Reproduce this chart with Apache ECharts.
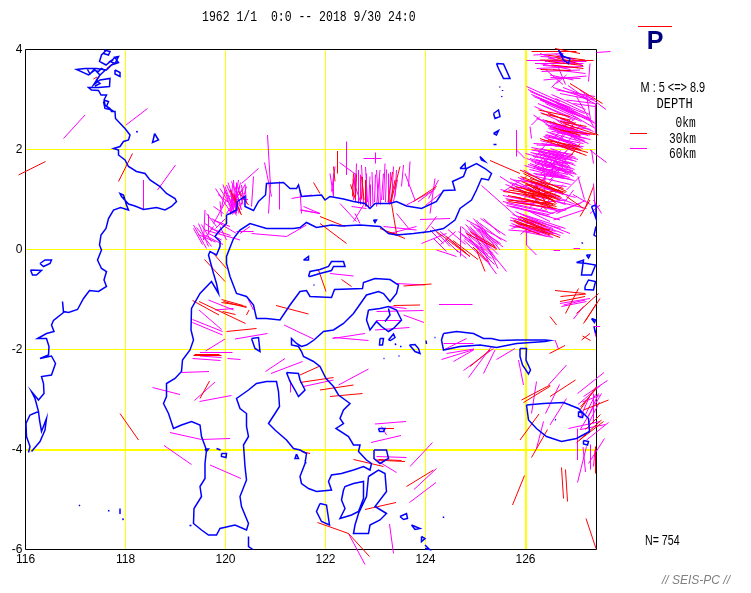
<!DOCTYPE html>
<html><head><meta charset="utf-8">
<style>html,body{margin:0;padding:0;background:#fff}#c{width:751px;height:593px}</style>
<script src="https://cdn.jsdelivr.net/npm/echarts@6/dist/echarts.min.js"></script>
</head><body><div id="c"></div>
<script>
const titleText = "1962 1/1  0:0 -- 2018 9/30 24:0";
const magnitudeText = "M : 5 <=> 8.9";
const depthLabels = ["0km", "30km", "60km"];
const countText = "N= 754";
const footerText = "// SEIS-PC //";
const xRange = [116, 127.42];
const yRange = [-6, 4];
const referenceLines = [[126.01, 4, 126.01, -6], [116, -4.01, 127.42, -4.01]];
const frameLines = [[116, 4, 127.42, 4], [127.42, 4, 127.42, -6], [127.42, -6, 116, -6], [116, -6, 116, 4]];

const borneoCoast = [117.62,3.99,117.52,3.89,117.48,3.76,117.61,3.69,117.79,3.84,117.86,3.74,117.72,3.69,117.62,3.59,117.42,3.62,117.19,3.62,117.02,3.60,117.26,3.49,117.39,3.59,117.49,3.49,117.36,3.29,117.49,3.39,117.69,3.42,117.68,3.26,117.46,3.24,117.26,3.24,117.32,3.19,117.46,3.18,117.51,3.09,117.62,3.09,117.57,2.99,117.59,2.89,117.69,2.82,117.72,2.76,117.79,2.76,117.80,2.62,117.99,2.42,118.09,2.29,118.06,2.19,117.96,2.16,117.89,2.06,117.76,2.02,117.86,1.99,117.86,1.89,117.99,1.79,118.06,1.66,118.22,1.56,118.39,1.52,118.49,1.39,118.69,1.26,118.82,1.12,118.99,1.02,119.02,0.96,118.92,0.86,118.79,0.79,118.62,0.84,118.36,0.80,118.19,0.87,118.06,0.91,117.92,1.06,117.89,1.12,117.96,1.09,118.02,0.89,118.06,0.79,117.90,0.84,117.76,0.79,117.66,0.62,117.61,0.42,117.51,0.29,117.48,0.09,117.52,-0.01,117.44,-0.21,117.52,-0.38,117.62,-0.44,117.57,-0.61,117.62,-0.74,117.46,-0.84,117.28,-0.82,117.16,-0.98,117.04,-1.20,116.86,-1.26,116.76,-1.24,116.74,-1.04,116.76,-1.26,116.56,-1.42,116.52,-1.51,116.57,-1.64,116.42,-1.68,116.24,-1.78,116.42,-1.78,116.47,-1.94,116.46,-2.11,116.29,-2.18,116.52,-2.13,116.60,-2.28,116.52,-2.51,116.32,-2.54,116.36,-2.68,116.37,-2.88,116.26,-3.01,116.12,-2.84,116.19,-2.98,116.26,-3.24,116.09,-3.31,116.01,-3.48,116.02,-3.74,116.09,-3.94,116.06,-4.06];
const laut = [116.26,-3.24,116.28,-3.41,116.32,-3.64,116.42,-3.38,116.39,-3.61,116.29,-3.84,116.12,-4.04];
const sulawesiCoast = [120.02,0.69,120.09,0.72,120.22,0.79,120.24,0.96,120.39,1.06,120.39,0.86,120.56,0.78,120.66,0.96,120.80,1.09,120.82,1.32,121.16,1.34,121.29,1.22,121.42,1.22,121.46,1.29,121.52,1.06,121.92,1.09,121.99,0.99,122.09,1.06,122.36,1.01,122.56,0.96,122.79,0.92,122.89,0.82,122.99,0.92,123.29,0.92,123.42,0.96,123.62,0.87,123.92,0.82,124.22,0.96,124.36,1.18,124.59,1.19,124.54,1.36,124.76,1.46,124.82,1.62,125.02,1.72,125.19,1.62,125.32,1.52,125.26,1.39,125.12,1.42,125.02,1.19,124.92,0.99,124.69,0.82,124.59,0.59,124.36,0.42,124.09,0.36,123.76,0.32,123.42,0.29,123.26,0.32,123.09,0.46,122.69,0.49,122.32,0.47,122.12,0.49,121.82,0.44,121.62,0.54,121.49,0.44,121.36,0.42,120.82,0.42,120.49,0.52,120.29,0.39,120.16,0.22,120.02,-0.14,120.02,-0.28,120.09,-0.54,120.22,-0.88,120.42,-0.94,120.56,-1.11,120.62,-1.38,120.82,-1.38,121.09,-1.41,121.29,-1.11,121.49,-0.84,121.62,-0.82,121.69,-0.94,122.12,-0.96,122.18,-0.80,122.74,-0.78,122.76,-0.66,122.99,-0.58,123.29,-0.60,123.46,-0.71,123.42,-0.88,123.29,-1.04,123.16,-0.88,123.06,-0.84,122.82,-0.91,122.56,-1.28,122.36,-1.48,122.16,-1.61,121.96,-1.64,121.77,-1.81,121.62,-1.91,121.52,-1.94,121.42,-1.88,121.32,-1.78,121.32,-1.91,121.46,-1.94,121.52,-2.04,121.56,-2.14,121.76,-2.24,121.89,-2.34,122.01,-2.58,122.16,-2.74,122.26,-2.91,122.49,-3.08,122.36,-3.21,122.29,-3.38,122.36,-3.48,122.21,-3.58,122.46,-3.74,122.56,-3.91,122.69,-3.91,122.66,-4.04,122.82,-4.21,122.92,-4.28,122.89,-4.41,122.76,-4.34,122.56,-4.41,122.32,-4.48,122.12,-4.51,122.06,-4.64,122.12,-4.81,121.82,-4.84,121.66,-4.78,121.52,-4.68,121.49,-4.54,121.59,-4.28,121.62,-4.08,121.49,-4.01,121.36,-3.98,121.22,-3.81,120.99,-3.61,120.86,-3.48,120.99,-3.28,121.08,-3.14,121.06,-2.84,121.02,-2.64,120.82,-2.64,120.62,-2.68,120.46,-2.81,120.22,-2.98,120.29,-3.18,120.42,-3.28,120.42,-3.54,120.46,-3.74,120.36,-3.91,120.39,-4.34,120.42,-4.61,120.29,-4.94,120.32,-5.14,120.46,-5.48,120.42,-5.61,120.19,-5.51,119.89,-5.58,119.82,-5.71,119.66,-5.71,119.52,-5.61,119.36,-5.48,119.37,-5.18,119.52,-4.94,119.49,-4.74,119.59,-4.58,119.59,-4.28,119.62,-4.01,119.52,-3.74,119.49,-3.51,119.32,-3.44,119.12,-3.51,118.96,-3.58,118.86,-3.28,118.76,-3.08,118.82,-2.94,118.82,-2.68,118.99,-2.58,119.12,-2.44,119.14,-2.21,119.29,-2.01,119.36,-1.81,119.31,-1.61,119.32,-1.18,119.49,-0.88,119.72,-0.64,119.86,-0.88,119.82,-0.68,119.76,-0.48,119.66,-0.11,119.69,-0.04,119.82,-0.11,119.89,0.06,119.89,0.16,119.79,0.26,119.89,0.39,120.02,0.52,120.02,0.69];
const openCoast = [[120.46,-5.74,120.46,-5.94,120.55,-6.0],[123.99,-5.91,124.08,-6.0,123.99,-5.98],[127.41,0.46,127.37,0.29,127.41,0.26],[127.37,-1.54,127.40,-1.68],[123.26,-1.18,123.29,-1.31,123.19,-1.44],[121.59,-4.21,121.61,-4.28],
[117.24,3.60,117.29,3.51,117.36,3.59,117.46,3.56,117.52,3.62,117.59,3.58,117.49,3.49,117.42,3.39,117.49,3.32,117.39,3.27],[117.76,3.84,117.86,3.86,117.79,3.72,117.69,3.76,117.76,3.80],[117.57,3.99,117.69,3.96,117.66,3.89,117.56,3.92],[117.56,2.99,117.66,2.96,117.62,2.86,117.72,2.79,117.59,2.82,117.56,2.96]];
const islandRings = [
[117.79,3.59,117.89,3.54,117.89,3.46,117.79,3.51],[118.58,2.32,118.66,2.19,118.54,2.14,118.57,2.26],[118.22,2.37,118.24,2.34],
[116.29,-0.28,116.39,-0.21,116.52,-0.21,116.49,-0.28,116.36,-0.34],[116.10,-0.41,116.32,-0.42,116.22,-0.51,116.14,-0.51],
[117.07,-5.11,117.09,-5.13],[117.66,-5.21,117.67,-5.24],[117.89,-5.18,117.89,-5.29],[117.94,-5.38,117.96,-5.41],[119.28,-5.52,119.32,-5.52],
[120.52,-1.78,120.66,-1.76,120.69,-2.04,120.59,-1.98],[119.82,-3.98,119.90,-4.01,119.86,-4.04],[119.92,-4.08,120.02,-4.08,120.01,-4.16,119.92,-4.14],[119.59,-3.99,119.66,-3.99,119.62,-4.04],
[121.56,-0.21,121.66,-0.14,121.66,-0.21],[121.66,-0.54,121.69,-0.44,121.89,-0.40,122.06,-0.34,122.12,-0.24,122.36,-0.24,122.39,-0.34,122.16,-0.34,122.12,-0.42,121.89,-0.48,121.69,-0.54],
[122.86,-1.21,123.09,-1.18,123.26,-1.14,123.42,-1.21,123.52,-1.41,123.36,-1.58,123.26,-1.64,123.12,-1.54,123.02,-1.44,122.89,-1.61,122.82,-1.41],
[123.09,-1.78,123.16,-1.78,123.14,-1.91,123.08,-1.91],[123.26,-1.81,123.36,-1.69,123.39,-1.76,123.30,-1.82],[123.68,-1.91,123.79,-1.90,123.86,-1.98,123.89,-2.08,123.79,-2.04],
[123.39,-1.88,123.41,-1.91],[123.49,-1.94,123.52,-1.94],[123.16,-2.18,123.18,-2.18],[123.46,-2.13,123.48,-2.13],[124.01,-1.82,124.02,-1.89],[124.18,-1.76,124.2,-1.76],[124.32,-1.76,124.34,-1.76],[124.36,-5.34,124.36,-5.37],
[124.36,-1.68,124.62,-1.64,124.96,-1.68,125.16,-1.78,125.32,-1.78,125.49,-1.82,125.82,-1.81,126.39,-1.81,126.49,-1.82,126.39,-1.84,125.82,-1.88,125.42,-1.96,125.09,-1.91,124.69,-1.94,124.36,-2.01,124.32,-1.81],
[125.89,-1.98,126.02,-1.98,126.01,-2.21,126.10,-2.41,126.06,-2.49,125.94,-2.31,125.89,-2.14],
[126.02,-3.11,126.36,-3.08,126.76,-3.06,127.06,-3.18,127.26,-3.38,127.28,-3.64,127.02,-3.78,126.72,-3.84,126.42,-3.74,126.22,-3.58,126.06,-3.41],
[126.59,-3.40,126.61,-3.41],[127.06,-3.24,127.16,-3.28,127.14,-3.36,127.06,-3.34],[127.16,-3.82,127.26,-3.84,127.24,-3.91,127.16,-3.89],
[127.02,-0.26,127.16,-0.21,127.12,-0.51,127.32,-0.51,127.40,-0.31,127.22,-0.28],[127.19,-0.74,127.26,-0.61,127.40,-0.64,127.36,-0.81,127.19,-0.80],[127.22,-0.11,127.29,-0.11,127.26,-0.17],[127.32,-1.38,127.40,-1.41,127.38,-1.46],
[122.36,-4.81,122.32,-5.01,122.39,-5.18,122.29,-5.38,122.52,-5.31,122.66,-5.24,122.76,-4.98,122.76,-4.64,122.56,-4.68,122.39,-4.74],
[122.86,-4.54,123.06,-4.41,123.19,-4.48,123.22,-4.84,122.99,-5.14,123.22,-5.28,123.09,-5.41,122.89,-5.51,122.86,-5.68,122.56,-5.68,122.59,-5.51,122.66,-5.28,122.82,-4.94],
[121.89,-5.08,122.02,-5.11,122.08,-5.51,121.92,-5.44,121.82,-5.24],[123.49,-5.34,123.62,-5.28,123.64,-5.38,123.56,-5.40],[123.72,-5.51,123.89,-5.58,123.79,-5.60],[123.92,-5.74,123.99,-5.78,123.92,-5.84],
[122.97,-4.01,123.22,-4.01,123.26,-4.18,123.09,-4.28,122.97,-4.18],[123.06,-3.58,123.19,-3.58,123.16,-3.64,123.08,-3.64],[121.42,-4.09,121.46,-4.18,121.39,-4.18],
[121.22,-2.46,121.46,-2.48,121.49,-2.61,121.59,-2.81,121.46,-2.94,121.39,-2.81,121.29,-2.64],[121.76,-0.71,121.78,-0.71],
[125.42,3.72,125.56,3.71,125.69,3.42,125.56,3.42,125.46,3.62],[125.48,3.26,125.49,3.24],[125.54,3.19,125.54,3.17],[125.52,3.07,125.53,3.05],[125.36,2.72,125.46,2.79,125.49,2.66,125.39,2.62],[125.36,2.32,125.46,2.38,125.42,2.29],[125.36,2.10,125.42,2.10],
[126.66,3.99,126.76,3.86,126.89,3.82,126.86,3.72,126.76,3.79,126.69,3.92],[127.32,0.86,127.41,0.89,127.41,0.62,127.36,0.76],[127.12,0.14,127.15,0.12],
[124.69,1.62,124.79,1.72,124.80,1.62],[125.09,1.86,125.19,1.76,125.12,1.79],[122.96,0.59,123.02,0.59,122.99,0.54]
];

// each row: lon1, lat1, lon2, lat2
const shallowSegments = [
[115.86,1.49,116.40,1.76],[117.86,1.36,118.14,1.92],[117.36,3.41,117.43,3.45],[117.62,3.62,117.75,3.72],
[120.09,1.19,120.32,0.69],[120.16,1.12,120.30,0.72],[120.26,1.16,120.46,0.89],[121.76,1.34,121.89,1.12],
[122.24,1.97,122.24,1.52],[122.16,1.66,122.19,1.36],[122.56,1.52,122.54,1.06],[122.79,1.39,122.79,0.86],[122.72,1.46,122.77,0.99],[123.49,1.66,123.30,0.92],[123.39,1.39,123.29,0.92],[123.32,0.92,123.42,0.32],[123.76,0.96,124.22,1.26],
[121.89,0.66,122.39,0.46],[121.89,0.52,122.42,0.12],[123.09,0.42,123.59,0.22],[123.22,0.36,123.49,0.29],
[124.22,0.36,124.89,-0.14],[124.42,0.26,124.82,-0.08],[124.82,0.32,125.42,0.02],[124.89,0.36,125.39,0.06],[125.02,-0.01,125.19,-0.44],
[125.29,1.78,125.89,1.52],[125.89,1.59,126.82,1.16],[125.96,1.52,126.62,1.19],[125.92,1.36,126.69,1.06],[126.02,1.32,126.62,0.92],[126.09,1.42,126.76,1.22],[125.66,1.19,126.56,1.06],[125.56,1.16,126.29,1.06],[125.76,1.06,126.62,0.86],[125.62,0.99,126.52,0.92],[126.02,1.19,126.56,0.99],[126.16,1.26,126.69,0.99],[125.66,0.96,126.62,0.82],[126.09,1.12,126.42,0.79],[126.02,1.39,126.76,1.12],[125.89,1.16,126.56,0.89],
[126.82,1.06,127.16,0.82],[127.19,0.82,127.36,1.26],[127.09,0.66,127.29,0.99],[125.76,0.59,126.69,0.24],[125.82,0.52,126.49,0.39],[125.89,0.66,126.42,0.46],[125.76,0.56,126.49,0.29],
[126.12,3.96,127.02,3.96],[126.42,3.89,127.19,3.79],[126.29,3.79,127.36,3.78],[126.52,3.69,127.16,3.62],[126.59,4.02,127.09,3.92],
[126.89,3.32,127.54,2.92],[126.26,2.79,126.89,2.66],[126.32,2.72,126.89,2.59],[126.69,2.56,127.22,2.46],[126.76,2.52,127.46,2.29],[126.29,2.22,127.22,1.88],[126.36,2.19,127.09,2.06],[127.09,2.12,126.89,1.86],
[119.58,-0.20,119.99,-0.64],[119.76,-0.08,120.02,-0.38],[119.34,-1.02,119.87,-1.31],[119.47,-1.04,120.40,-1.48],[119.92,-1.06,120.42,-1.14],[119.96,-1.04,120.42,-1.16],[120.42,-1.31,120.47,-1.21],[120.02,-1.64,120.62,-1.58],[119.36,-2.11,119.92,-2.11],[117.89,-3.28,118.26,-3.81],[121.01,-1.12,121.66,-1.29],[121.52,-4.04,121.69,-4.08],[119.49,-2.98,119.68,-2.63],
[121.86,-0.41,122.01,-0.84],[122.32,-0.60,122.52,-0.74],[123.56,-0.73,124.12,-0.69],[123.36,-1.12,123.89,-1.11],[121.49,-2.51,121.89,-2.33],[121.49,-2.66,122.16,-2.56],[121.89,-2.81,122.56,-2.71],[122.09,-2.94,122.74,-2.88],[122.99,-4.21,123.59,-4.24],[123.06,-4.20,123.52,-4.22],[122.56,-4.20,123.16,-4.34],[121.84,-5.46,122.46,-5.68],[122.46,-5.68,122.88,-6.14],[123.62,-4.74,124.16,-4.41],[122.79,-5.20,123.41,-5.06],
[125.92,-3.01,126.49,-2.71],[125.96,-3.06,126.50,-2.73],[126.49,-2.94,127.00,-2.61],[125.89,-3.81,126.27,-3.29],[126.12,-4.16,126.44,-3.60],[126.72,-4.36,126.76,-4.98],[126.80,-4.40,126.84,-5.04],[125.74,-5.11,125.98,-4.52],
[126.59,-0.82,127.19,-0.88],[126.70,-0.94,127.21,-0.89],[126.69,-1.04,127.19,-0.94],[126.49,-1.34,126.62,-1.51],[126.48,-2.08,126.79,-1.92],[126.80,-1.28,127.06,-0.78],[127.16,-1.48,127.42,-1.08],[127.19,-1.44,127.49,-0.98],[127.02,-1.28,127.46,-0.88],[127.14,-1.73,127.30,-1.82],[127.12,-1.81,127.29,-1.68],[127.21,-5.38,127.41,-5.98],
[127.09,-3.21,127.42,-2.74],[127.16,-3.21,127.66,-3.01],[127.02,-3.86,127.56,-3.44],[127.08,-3.81,127.52,-3.41],[127.39,-3.94,127.39,-4.48],[124.89,-2.34,125.29,-2.01],[123.09,-3.58,123.37,-3.58],
[125.70,1.24,126.50,1.00],[125.80,1.26,126.60,1.04],[125.90,1.24,126.65,1.00],[126.00,1.30,126.72,1.04],[125.95,1.10,126.60,0.90],[125.85,1.04,126.55,0.84],[125.90,1.46,126.75,1.14],[126.10,1.36,126.80,1.14],[126.05,1.22,126.50,1.02],[126.15,1.18,126.60,0.96],[125.65,1.08,126.40,0.92],[126.20,1.30,126.45,0.85],[126.12,1.05,126.60,1.18],[125.95,0.60,126.55,0.34],[125.85,0.62,126.40,0.38],[125.80,0.48,126.30,0.30],
[126.45,3.76,127.15,3.68],[126.60,3.84,127.05,3.72],[126.30,3.60,126.90,3.58],[126.40,2.58,127.00,2.40],[126.55,2.44,127.10,2.28],[126.70,2.38,127.40,2.30],[126.45,2.20,127.10,2.00],[126.65,2.10,127.25,1.94],[126.45,2.72,127.00,2.52],
[122.62,1.50,122.60,1.05],[122.74,1.45,122.72,1.00],[123.34,1.55,123.25,0.95],[122.50,1.30,122.60,1.00],[119.92,-1.00,120.35,-1.12],[119.94,-1.24,120.20,-1.30],[119.38,-2.09,119.88,-2.09],[124.95,0.05,125.25,-0.24],[124.55,0.18,125.05,-0.20],[127.10,-3.15,127.40,-2.80],[127.20,-3.60,127.50,-3.30]
];
const deepSegments = [
[116.76,2.22,117.19,2.69],[118.01,2.49,118.44,2.82],[118.64,1.19,119.0,1.69],[118.36,1.39,118.36,0.80],
[120.84,2.29,120.90,1.26],[120.90,1.36,120.86,0.72],[120.78,1.74,120.92,1.06],[121.08,1.36,121.08,0.80],[120.66,1.62,120.32,1.32],[120.56,1.46,120.52,0.86],
[119.89,1.22,120.16,0.79],[119.99,1.26,120.19,0.72],[120.02,1.29,120.26,0.76],[120.09,1.19,120.29,0.86],[120.16,1.39,120.19,0.86],[120.26,1.39,120.16,0.82],[120.29,1.26,120.09,0.72],[120.39,1.29,120.02,0.72],[120.42,1.26,120.26,0.72],[120.06,1.06,120.36,1.12],[119.92,0.82,119.99,1.19],[120.12,1.19,120.16,0.72],[120.19,1.26,120.32,0.79],[120.39,1.32,120.42,0.92],[120.32,1.29,120.36,0.99],
[119.59,0.79,119.56,0.19],[119.76,0.86,119.96,0.72],[119.89,0.96,119.92,0.66],[119.36,0.49,119.62,0.02],[119.46,0.52,119.66,0.06],[119.59,0.52,119.89,0.32],[119.72,0.62,120.22,0.32],[119.76,0.59,120.09,0.46],[119.89,0.46,120.02,0.19],[119.56,0.19,119.76,0.46],[119.59,0.39,120.29,0.19],[119.66,0.32,119.92,0.19],[120.29,0.32,120.49,0.46],[120.22,0.36,120.56,0.36],[120.52,0.32,121.22,0.26],[121.22,0.26,121.62,0.49],[119.62,0.72,119.82,0.46],[120.02,0.99,119.76,0.52],[121.49,1.19,121.52,0.72],[121.32,1.02,121.72,1.09],[121.56,0.86,121.89,0.72],[121.52,0.79,121.89,0.72],
[119.80,1.22,120.10,0.75],[119.95,1.30,120.14,0.70],[120.05,1.34,120.24,0.78],[120.14,1.30,120.10,0.70],[120.22,1.34,120.22,0.72],[120.30,1.34,120.14,0.74],[120.36,1.20,120.06,0.90],[120.10,1.00,120.45,1.00],[120.00,1.16,120.22,0.68],[120.12,1.36,120.30,0.90],[119.85,1.10,120.05,0.95],[120.20,1.10,120.20,0.72],[120.25,1.25,120.35,0.90],
[119.42,0.44,119.72,0.06],[119.52,0.50,119.72,0.16],[119.36,0.42,119.54,0.10],[119.70,0.42,120.10,0.28],[119.80,0.42,120.00,0.62],[119.66,0.70,119.66,0.30],[119.55,0.30,119.95,0.10],[119.45,0.30,119.80,0.15],
[122.41,2.16,122.41,1.49],[122.28,1.74,122.62,1.49],[122.76,1.82,123.12,1.82],[122.99,1.94,122.99,1.72],[122.16,1.52,122.16,1.06],[122.09,1.52,122.16,1.06],[122.19,1.66,122.12,1.16],[122.52,1.22,122.62,1.52],[122.59,1.52,122.56,0.99],[122.66,1.59,122.66,0.92],[122.72,1.69,122.76,0.92],[122.82,1.52,122.82,0.86],[122.89,1.46,122.86,0.82],[123.02,1.59,123.06,0.92],[123.09,1.59,123.02,0.86],[123.16,1.52,123.12,0.99],[123.19,1.72,123.16,0.99],[123.26,1.52,123.26,0.92],[123.36,1.66,123.32,0.92],[123.42,1.59,123.39,1.06],[123.56,1.69,123.52,1.26],[123.69,1.76,123.66,1.26],[123.59,1.52,123.79,0.99],[123.62,0.89,124.12,1.16],[124.06,1.02,124.26,1.39],[124.19,1.42,124.09,0.72],
[122.60,1.42,122.60,0.95],[122.70,1.50,122.70,0.90],[122.93,1.55,122.95,0.90],[123.00,1.50,122.98,0.95],[123.08,1.45,123.10,0.90],[123.22,1.60,123.20,0.95],[123.30,1.55,123.28,0.90],[123.44,1.40,123.36,0.95],[122.80,1.65,122.84,0.95],[122.90,1.30,122.90,0.86],[122.62,1.72,122.60,1.20],[122.55,1.40,122.70,0.95],[123.85,0.95,124.20,1.22],[124.00,0.88,124.30,1.12],
[121.49,0.79,121.89,0.72],[122.29,0.92,122.62,0.56],[122.59,0.72,122.69,0.52],[122.56,0.56,122.82,0.99],[122.52,0.86,122.82,0.82],[123.42,0.72,123.69,0.39],[123.16,0.46,123.82,0.39],[123.29,0.32,123.82,0.46],[123.89,0.60,124.49,0.62],[124.22,0.66,123.96,0.32],
[124.12,0.46,124.49,0.06],[124.29,0.36,124.89,-0.14],[123.92,0.12,124.42,0.32],[124.69,0.46,124.69,-0.14],[124.72,0.46,125.39,-0.14],[124.82,0.59,125.62,0.16],[124.96,0.62,125.42,0.02],[125.02,0.59,125.49,-0.01],[124.79,0.36,125.42,-0.21],[124.89,0.46,125.62,-0.44],[124.82,0.32,125.42,-0.49],[125.09,0.52,125.52,0.19],[125.02,0.39,125.42,-0.01],[125.16,0.62,125.49,0.32],[124.96,0.46,125.36,0.12],[124.92,0.32,125.29,0.09],[124.76,0.19,125.22,-0.24],[124.62,-0.01,124.82,-0.18],[124.22,-0.01,124.62,-0.14],[124.16,0.22,124.42,-0.04],[124.09,0.39,124.36,0.12],
[124.80,0.50,125.30,0.02],[124.90,0.52,125.45,0.10],[125.00,0.50,125.55,0.05],[124.85,0.42,125.35,-0.08],[124.95,0.40,125.45,-0.10],[125.05,0.42,125.50,0.12],[124.72,0.30,125.25,-0.10],[124.78,0.22,125.32,-0.18],[124.88,0.20,125.38,-0.30],[125.10,0.62,125.60,0.28],[124.66,0.36,125.18,-0.02],[125.12,0.30,125.45,-0.38],[125.00,0.28,125.30,-0.32],[124.30,0.10,124.60,0.36],[124.45,0.40,124.80,0.10],[124.40,0.20,124.65,-0.05],
[126.02,3.79,126.89,3.79],[126.16,3.89,126.76,3.92],[126.19,3.72,127.16,3.72],[126.22,3.62,127.16,3.66],[126.32,3.56,127.09,3.59],[126.36,3.39,127.22,3.47],[126.49,3.49,126.96,3.39],[126.62,3.32,126.82,3.49],[127.42,3.94,127.70,3.96],[127.26,3.36,127.29,3.72],[126.52,3.24,126.69,3.42],[126.29,3.92,126.82,3.72],[126.39,3.76,127.22,3.76],
[126.30,3.86,127.00,3.82],[126.35,3.68,127.05,3.64],[126.45,3.83,127.12,3.70],[126.28,3.72,126.90,3.60],[126.55,3.60,127.20,3.52],[126.50,3.44,127.10,3.42],[126.60,3.90,127.02,3.78],[126.40,3.60,126.75,3.30],[126.65,3.66,126.80,3.30],
[126.02,3.26,126.69,2.96],[126.09,3.16,126.82,2.86],[126.16,3.06,127.02,2.72],[126.29,2.99,127.09,2.66],[126.62,3.19,127.39,3.06],[126.69,3.12,127.36,2.99],[126.82,2.99,127.39,2.92],[127.02,3.06,127.36,2.46],[126.96,2.92,127.39,2.86],[127.39,2.92,127.39,2.32],[127.09,3.19,127.61,2.80],[126.12,2.22,126.09,2.46],[126.29,2.66,126.12,2.49],[126.16,2.69,126.56,2.42],
[126.30,3.00,126.95,2.70],[126.40,2.92,127.05,2.62],[126.52,3.10,127.20,2.80],[126.60,3.02,127.28,2.70],[126.20,3.12,126.90,2.84],[126.85,3.28,127.30,2.96],[126.95,3.14,127.42,2.90],[126.72,2.90,127.30,2.60],[126.80,2.80,127.36,2.56],[127.22,3.10,127.30,2.60],
[126.05,3.20,126.85,2.82],[126.12,3.10,126.98,2.74],[126.24,3.04,127.06,2.68],[126.35,2.88,127.12,2.56],[126.25,2.92,126.95,2.60],[126.18,2.86,126.80,2.58],[126.55,3.24,127.25,3.02],[126.75,3.24,127.38,3.00],[126.48,3.00,127.18,2.72],[126.62,2.92,127.28,2.62],[126.88,2.76,127.40,2.52],[126.95,2.68,127.40,2.42],[126.30,2.74,126.98,2.44],[126.22,2.62,126.90,2.38],[126.34,2.60,127.05,2.34],
[126.46,2.56,127.22,2.32],[126.49,2.49,127.16,2.32],[126.46,2.42,127.22,2.22],[126.56,2.56,127.02,2.19],[126.62,2.59,127.09,2.26],[126.36,2.26,127.16,2.12],[126.42,2.36,127.09,2.06],[126.32,2.12,127.09,1.99],[126.22,2.09,127.02,2.06],[126.16,2.12,127.16,2.06],[126.49,2.56,126.96,2.32],[126.56,2.46,127.22,2.42],[126.52,2.36,127.29,2.29],[126.69,2.62,127.36,2.36],[126.39,2.29,126.89,2.12],
[126.40,2.50,127.05,2.30],[126.45,2.46,127.12,2.24],[126.50,2.42,127.18,2.18],[126.55,2.52,127.25,2.28],[126.60,2.48,127.20,2.14],[126.48,2.34,127.10,2.16],[126.42,2.30,127.02,2.10],[126.38,2.24,126.98,2.04],[126.50,2.28,127.14,2.02],[126.58,2.40,127.26,2.12],[126.62,2.34,127.30,2.20],[126.66,2.50,127.32,2.30],[126.52,2.18,127.08,2.00],[126.30,2.18,126.96,2.00],[126.70,2.58,127.30,2.40],[126.75,2.44,127.00,2.62],[126.55,2.20,126.90,2.60],[126.70,2.20,127.00,2.55],[126.85,2.15,127.10,2.50],[126.60,2.05,126.80,2.40],
[126.12,1.99,126.89,1.86],[126.16,1.92,126.96,1.72],[126.09,1.82,126.82,1.59],[126.19,1.72,126.92,1.52],[126.22,1.62,126.92,1.56],[126.29,1.86,126.82,1.52],[126.42,1.99,126.89,1.66],[126.36,1.79,126.96,1.46],[126.09,1.72,126.82,1.46],[126.16,1.52,126.76,1.46],[126.22,1.79,126.86,1.66],[126.26,1.92,126.82,1.79],[126.56,1.99,126.29,1.59],[126.82,1.96,126.42,1.62],[126.36,1.66,126.39,1.36],[127.29,1.99,127.62,1.74],[127.32,1.99,127.36,1.72],[125.82,2.39,125.82,1.86],[125.82,1.99,125.99,1.82],
[126.15,1.86,126.85,1.72],[126.20,1.80,126.92,1.62],[126.10,1.94,126.80,1.80],[126.25,1.96,126.95,1.78],[126.30,1.70,126.95,1.58],[126.15,1.66,126.85,1.50],[126.25,1.60,126.88,1.44],[126.35,1.90,127.00,1.68],[126.40,1.84,126.98,1.60],[126.12,1.76,126.70,1.62],[126.05,1.70,126.60,1.52],[126.50,1.92,127.02,1.76],[126.55,1.78,127.00,1.52],[126.30,1.96,126.75,1.64],[126.20,1.50,126.80,1.42],[126.45,1.94,126.15,1.60],[126.70,1.98,126.30,1.50],[126.62,1.90,126.50,1.45],[126.90,1.90,126.55,1.50],[126.40,1.50,126.98,1.38],[126.34,2.00,126.95,1.90],[126.50,2.02,127.00,1.84],
[126.00,1.92,126.78,1.72],[126.02,1.82,126.72,1.58],[125.98,1.68,126.70,1.46],[126.08,1.60,126.92,1.40],[126.30,2.02,127.05,1.80],[126.18,2.00,126.92,1.82],[126.38,1.72,127.02,1.50],[126.12,2.04,126.72,1.92],[126.58,2.10,127.12,1.92],[126.62,1.72,126.32,1.36],[126.85,1.76,126.48,1.38],[126.42,2.12,126.18,1.82],[126.95,2.10,126.62,1.78],
[125.49,1.46,126.02,1.12],[125.69,1.42,126.16,1.19],[125.12,1.28,125.82,0.66],[125.96,1.59,126.42,1.32],[125.56,1.16,126.02,1.46],[125.76,1.39,126.82,1.26],[125.62,0.92,126.56,0.72],[125.69,0.86,126.49,0.66],[125.76,0.86,126.69,0.59],[126.09,0.92,126.82,0.99],[126.62,0.96,127.22,0.82],[126.56,0.59,127.16,0.79],[127.36,0.99,127.52,0.72],[127.36,1.32,127.39,0.86],[127.29,0.72,127.49,0.89],
[125.60,1.30,126.40,1.00],[125.70,1.34,126.55,1.05],[125.80,1.30,126.70,1.00],[125.85,1.44,126.75,1.10],[125.95,1.40,126.85,1.08],[125.55,1.08,126.50,0.88],[125.60,1.02,126.60,0.80],[125.70,1.00,126.70,0.76],[125.80,0.94,126.80,0.78],[125.55,0.96,126.45,0.76],[125.62,0.88,126.45,0.70],[126.05,1.50,126.90,1.30],[126.10,1.30,127.00,1.04],[126.20,1.22,127.00,0.90],[125.75,1.20,126.40,1.40],[125.90,0.95,126.40,1.45],[126.10,0.85,126.55,1.42],[126.30,0.80,126.75,1.30],[125.70,1.25,126.80,0.90],[125.50,1.20,126.30,0.98],[126.45,0.70,127.10,0.92],[126.62,0.72,127.20,0.98],
[125.69,0.59,126.56,0.32],[125.72,0.52,126.42,0.26],[125.76,0.46,126.42,0.39],[125.82,0.66,126.76,0.32],[125.89,0.72,126.89,0.32],[125.66,0.39,126.62,0.32],[126.02,0.79,126.49,0.56],[126.02,0.46,126.02,0.09],[126.02,0.09,126.22,-0.11],[126.56,-0.01,126.69,-0.01],[126.96,0.02,127.09,0.02],[126.82,1.19,127.09,1.46],[126.96,1.19,126.76,0.92],
[125.74,0.70,126.55,0.42],[125.78,0.62,126.60,0.36],[125.85,0.50,126.52,0.26],[125.90,0.58,126.70,0.28],[125.68,0.48,126.45,0.34],[125.70,0.64,126.35,0.44],[125.95,0.70,126.80,0.42],[126.00,0.62,126.70,0.42],[125.80,0.76,126.30,0.52],[125.95,0.36,126.55,0.24],[125.72,0.42,126.15,0.55],[125.90,0.30,126.25,0.60],[126.95,1.10,127.30,0.90],[127.05,1.46,127.18,1.00],
[119.66,-1.01,120.16,-1.21],[119.79,-1.21,120.16,-1.18],[119.47,-1.21,119.92,-1.60],[119.34,-1.40,119.94,-1.64],[119.34,-1.46,119.94,-1.71],[119.60,-2.03,119.99,-1.79],[120.19,-1.79,120.84,-1.68],[121.17,-1.51,121.76,-1.79],[119.49,-2.06,120.14,-2.06],[119.34,-2.18,119.90,-2.22],[119.49,-2.13,119.92,-2.16],[120.04,-2.18,120.30,-2.20],[119.12,-2.46,119.67,-2.44],[118.54,-2.76,119.09,-2.90],[119.38,-3.02,119.79,-2.65],[119.48,-3.04,120.12,-2.92],[118.89,-3.66,119.52,-3.80],[119.52,-3.80,120.09,-3.78],[118.77,-3.92,119.32,-4.30],[119.69,-4.31,120.31,-4.58],[120.80,-2.44,121.19,-2.18],[120.91,-2.48,121.54,-2.24],[121.30,-2.62,121.30,-2.86],[120.46,-1.01,120.56,-1.21],[121.56,-2.74,122.16,-2.61],
[122.09,-0.48,122.56,-0.53],[123.42,-0.68,123.99,-0.71],[122.14,-1.78,122.79,-1.68],[122.16,-1.76,122.86,-1.82],[123.02,-1.24,123.96,-1.22],[123.02,-1.41,123.52,-1.41],[123.56,-1.31,123.97,-1.46],[122.99,-1.61,123.68,-1.56],[124.27,-1.10,124.94,-1.10],[123.29,-1.14,123.62,-1.18],[122.26,-2.71,122.86,-2.39],[122.99,-3.49,123.61,-3.44],[122.91,-3.86,123.51,-3.72],[123.12,-3.54,123.22,-3.71],[123.69,-4.34,124.14,-3.86],[123.77,-4.80,124.22,-4.38],[123.68,-5.06,124.21,-4.66],[122.96,-4.18,123.42,-4.46],[123.02,-4.14,123.62,-4.16],[123.28,-5.49,123.36,-6.08],[122.46,-5.68,122.79,-6.30],
[124.32,-2.20,124.97,-2.00],[124.42,-2.08,124.97,-1.99],[124.56,-2.24,124.96,-2.01],[124.36,-2.01,124.82,-1.78],[124.36,-1.88,124.96,-1.88],[124.76,-2.42,125.36,-1.98],[124.86,-2.56,125.32,-1.94],[125.16,-2.48,125.39,-2.01],[125.42,-2.20,125.79,-1.98],[125.86,-2.21,125.96,-2.71],
[126.22,-2.64,126.12,-3.28],[126.68,-2.70,126.40,-3.28],[126.82,-2.98,126.49,-3.51],[126.36,-3.44,126.22,-3.98],[126.82,-2.31,126.46,-2.71],[127.04,-2.88,127.57,-2.46],[127.16,-2.94,127.64,-2.62],[126.86,-3.58,127.49,-3.44],[127.09,-3.38,127.28,-2.94],[127.52,-2.88,127.09,-3.61],[127.36,-2.88,127.36,-3.48],[127.46,-2.88,127.26,-3.34],[127.66,-3.46,127.22,-3.81],[127.04,-3.58,127.04,-4.21],[127.22,-3.94,127.04,-4.66],[127.58,-3.78,127.26,-4.28],[127.39,-4.01,127.36,-4.34],
[127.14,-3.05,127.48,-2.92],[127.20,-3.30,127.40,-2.90],[127.25,-3.50,127.48,-3.05],[127.10,-3.60,127.60,-3.50],[127.30,-3.90,127.30,-4.40],[127.15,-3.95,127.20,-4.45],[127.05,-3.10,127.50,-2.72],
[126.59,-1.81,126.66,-1.99],[126.69,-1.08,127.29,-0.98],[126.76,-1.11,127.19,-1.01],[126.72,-1.14,127.22,-1.04],[126.96,-1.39,127.16,-1.14],[127.39,-1.61,127.39,-1.74],[127.36,-1.54,127.49,-1.54]
];

const RED = '#ff0000', MAG = '#ff00ff', BLUE = '#0000ff', YEL = '#ffff00';
const pairs = f => { const o = []; for (let i = 0; i < f.length; i += 2) o.push([f[i], f[i + 1]]); return o; };
const gap = [null, null];
const coastPath = [borneoCoast, laut, sulawesiCoast, ...openCoast].flatMap(p => [...pairs(p), gap])
  .concat(islandRings.flatMap(r => { const p = pairs(r); return [...p, p[0], gap]; }));
const linesSeries = (name, rows, color, width, z) => ({
  name, type: 'lines', coordinateSystem: 'cartesian2d', clip: false, silent: true, z, animation: false, polyline: false, large: false,
  symbol: ['none', 'none'], lineStyle: { color, width, opacity: 1, curveness: 0, cap: 'butt' },
  data: rows.map(r => ({ coords: [[r[0], r[1]], [r[2], r[3]]] }))
});
const MONO = '"Liberation Mono","DejaVu Sans Mono",monospace';
const SANS = '"Liberation Sans",sans-serif';
const txt = (text, x, y, opt = {}) => ({
  type: 'text', x, y, scaleX: opt.sx ?? 0.82, silent: true,
  style: { text, fill: opt.fill || '#000', font: opt.font || `14px ${MONO}`, textAlign: opt.align || 'left', textVerticalAlign: 'middle' }
});
const seg = (x1, y1, x2, y2, c) => ({ type: 'line', silent: true, shape: { x1, y1, x2, y2 }, style: { stroke: c, lineWidth: 1 } });
const tickFont = { color: '#000', fontFamily: SANS, fontSize: 12 };

const chart = echarts.init(document.getElementById('c'), null, { renderer: 'canvas' });
chart.setOption({
  animation: false,
  backgroundColor: '#fff',
  grid: { left: 25.5, top: 49.5, width: 571, height: 500, show: false },
  xAxis: { type: 'value', min: xRange[0], max: xRange[1], interval: 2,
    axisLine: { show: false }, axisTick: { show: false },
    splitLine: { show: true, lineStyle: { color: YEL, width: 1 } },
    axisLabel: { ...tickFont, margin: 4, formatter: v => (v === xRange[1] ? '' : String(v)), showMaxLabel: false, hideOverlap: false } },
  yAxis: { type: 'value', min: yRange[0], max: yRange[1], interval: 2,
    axisLine: { show: false }, axisTick: { show: false },
    splitLine: { show: true, lineStyle: { color: YEL, width: 1 } },
    axisLabel: { ...tickFont, margin: 3 } },
  series: [
    linesSeries('reference', referenceLines, YEL, 2, 1),
    linesSeries('frame', frameLines, '#000', 1, 2),
    linesSeries('60km', deepSegments, MAG, 1, 3),
    linesSeries('30km', shallowSegments, RED, 1, 4),
    { name: 'coast', type: 'line', data: coastPath, showSymbol: false, symbol: 'none', clip: false, silent: true, z: 5,
      connectNulls: false, animation: false, lineStyle: { color: BLUE, width: 1.5, cap: 'butt', join: 'miter' } }
  ],
  graphic: [
    txt(titleText, 202, 17),
    seg(638, 26.5, 672, 26.5, RED),
    { type: 'text', x: 655, y: 42, silent: true, style: { text: 'P', fill: '#000080', font: 'bold 25px "Liberation Sans",sans-serif', textAlign: 'center', textVerticalAlign: 'middle' } },
    txt(magnitudeText, 640.5, 88, { font: `14px ${SANS}`, sx: 0.78 }),
    txt('DEPTH', 656.5, 104, { sx: 0.86 }),
    txt(depthLabels[0], 675.5, 123, { sx: 0.8 }),
    txt(depthLabels[1], 669, 139, { sx: 0.8 }),
    txt(depthLabels[2], 669, 154, { sx: 0.8 }),
    seg(630, 133.5, 647, 133.5, RED),
    seg(630, 148.5, 647, 148.5, MAG),
    txt(countText, 645, 541, { font: `14px ${SANS}`, sx: 0.76 }),
    { type: 'text', x: 662, y: 581, silent: true, style: { text: footerText, fill: '#808080', font: 'italic 12px "Liberation Sans",sans-serif', textVerticalAlign: 'middle' } }
  ]
});
</script></body></html>
